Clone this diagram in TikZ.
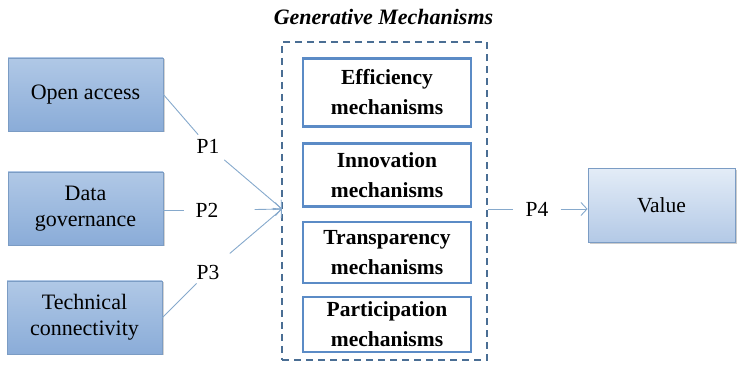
\documentclass[tikz,border=0pt]{standalone}
\usepackage{fontspec}
\setmainfont{Liberation Serif}
\usetikzlibrary{arrows.meta,shadows}
\definecolor{boxborder}{HTML}{7B9CC4}
\definecolor{lefttop}{HTML}{B0C8E6}
\definecolor{leftbot}{HTML}{8AACD8}
\definecolor{valtop}{HTML}{E3ECF7}
\definecolor{valbot}{HTML}{B3C9E6}
\definecolor{innerborder}{HTML}{5B8BC6}
\definecolor{dashcol}{HTML}{4A6E94}
\definecolor{linecol}{HTML}{86A9CC}
\tikzset{
  leftbox/.style={draw=boxborder, line width=0.8pt, top color=lefttop, bottom color=leftbot, minimum width=155pt, minimum height=73pt, align=center, font=\fontsize{22}{26}\selectfont, inner sep=2pt, drop shadow={shadow xshift=1.5pt, shadow yshift=-1.5pt, opacity=0.35}},
  mechbox/.style={draw=innerborder, line width=2.6pt, fill=white, minimum width=168pt, align=center, font=\fontsize{21.5}{30}\selectfont\bfseries, inner sep=1pt},
  conn/.style={draw=linecol, line width=0.9pt},
  arr/.style={conn, -{Straight Barb[length=6pt,width=13pt,line width=0.9pt]}},
  plabel/.style={inner sep=4pt, font=\fontsize{21.5}{24}\selectfont},
}
\begin{document}
\begin{tikzpicture}[x=1pt,y=-1pt]
\useasboundingbox (0,0) rectangle (740,371);
% left boxes
\node[leftbox] (oa) at (85.5,94.5) {Open access};
\node[leftbox] (dg) at (85.5,208.5) {Data\\governance};
\node[leftbox] (tc) at (84.5,317.5) {Technical\\connectivity};
% dashed container
\node[draw=dashcol, line width=2pt, dash pattern=on 7pt off 5pt, minimum width=205pt, minimum height=318pt, inner sep=0pt] (gm) at (384.5,201) {};
\node[font=\fontsize{22}{24}\selectfont\bfseries\itshape] (title) at (383.5,17) {Generative Mechanisms};
% mechanism boxes
\node[mechbox, minimum height=68pt] (eff) at (387,92.5) {Efficiency\\mechanisms};
\node[mechbox, minimum height=63pt] (inn) at (387,175) {Innovation\\mechanisms};
\node[mechbox, minimum height=61pt] (tra) at (387,252.5) {Transparency\\mechanisms};
\node[mechbox, minimum height=55pt] (par) at (387,324.5) {Participation\\mechanisms};
% value box
\node[draw=boxborder, line width=0.8pt, top color=valtop, bottom color=valbot, minimum width=147pt, minimum height=74pt, font=\fontsize{21.5}{24}\selectfont, drop shadow={shadow xshift=2pt, shadow yshift=-2pt, opacity=0.4}] (val) at (661.5,205.5) {Value};
% labels
\node[plabel] (p1) at (208,146) {P1};
\node[plabel, inner xsep=11pt] (p2) at (207,210) {P2};
\node[plabel] (p3) at (208,272) {P3};
\node[plabel, inner xsep=12pt] (p4) at (537,209) {P4};
% connectors
\coordinate (conv) at (282,209);
\draw[conn] (oa.east) -- (p1);
\draw[arr, shorten <=4pt] (p1) -- (conv);
\draw[conn] (dg.east |- p2) -- (p2);
\draw[arr, shorten <=25pt] (p2.east) -- (conv);
\draw[conn] (tc.east) -- (p3);
\draw[arr, shorten <=11pt] (p3) -- (conv);
\draw[conn] (gm.east |- p4) -- (p4);
\draw[arr] (p4) -- (val.west |- p4);
\end{tikzpicture}
\end{document}
